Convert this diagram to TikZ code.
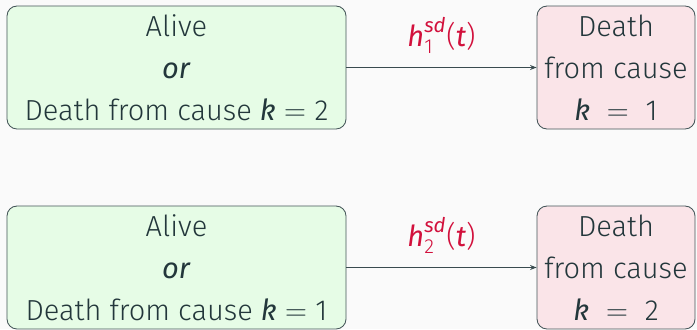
\documentclass[tikz,border=0pt]{standalone}
\usepackage{amsmath}
\usepackage{fontspec}
\setmainfont{Fira Sans Light}[BoldFont={Fira Sans},ItalicFont={Fira Sans Italic}]
\usetikzlibrary{arrows.meta}
\definecolor{mbg}{HTML}{FAFAFA}
\definecolor{mtext}{HTML}{23373B}
\definecolor{aliveg}{HTML}{E6FCE6}
\definecolor{deathr}{HTML}{FAE4E8}
\definecolor{hazred}{HTML}{D2103C}
\newcommand{\kk}{\text{\textit{k}}}
\newcommand{\dg}[1]{\text{#1}}
\tikzset{
  state/.style={draw=mtext!85, line width=0.5pt, rounded corners=0.2cm, minimum height=2.46cm,
    align=center, text=mtext, inner sep=0pt, font=\fontsize{16.5}{24}\selectfont},
  alive/.style={state, fill=aliveg, minimum width=6.78cm},
  death/.style={state, fill=deathr, minimum width=3.16cm},
  trans/.style={-{Stealth[length=1.3mm,width=1mm]}, draw=mtext!90, line width=0.5pt},
  haz/.style={text=hazred, font=\fontsize{16.5}{18}\selectfont}
}
\begin{document}
\begin{tikzpicture}
	\fill[mbg] (0,0) rectangle (13.94,-6.58);
	\useasboundingbox (0,0) rectangle (13.94,-6.58);
	% first cause
	\node[alive] (a1) at (3.53,-1.35) {Alive\\\textit{or}\\Death from cause $\kk=\dg{2}$};
	\node[death] (d1) at (12.32,-1.35) {Death\\from cause\\$\kk\;=\;\dg{1}$};
	% second cause
	\node[alive] (a2) at (3.53,-5.35) {Alive\\\textit{or}\\Death from cause $\kk=\dg{1}$};
	\node[death] (d2) at (12.32,-5.35) {Death\\from cause\\$\kk\;=\;\dg{2}$};
	\draw[trans] (a1) -- node[haz, above=0.15cm] {$\text{\textit{h}}^{\text{\textit{sd}}}_{\dg{1}}\text{(\textit{t})}$} (d1);
	\draw[trans] (a2) -- node[haz, above=0.15cm] {$\text{\textit{h}}^{\text{\textit{sd}}}_{\dg{2}}\text{(\textit{t})}$} (d2);
\end{tikzpicture}
\end{document}
